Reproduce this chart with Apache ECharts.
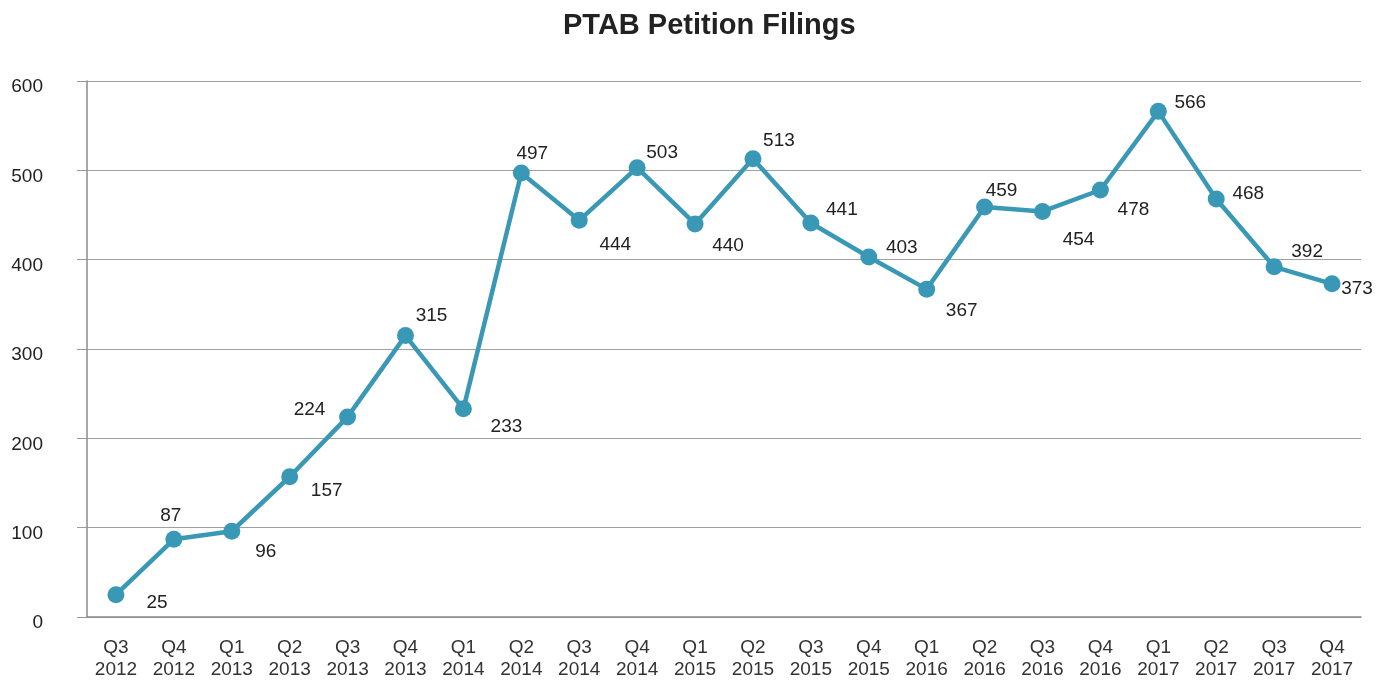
<!DOCTYPE html>
<html>
<head>
<meta charset="utf-8">
<script src="https://cdn.jsdelivr.net/npm/echarts@6/dist/echarts.min.js"></script>
<style>
  html, body { margin: 0; padding: 0; background: #fff; }
  #main { width: 1387px; height: 680px; }
</style>
</head>
<body>
<div id="main"></div>
<script>
// quarters on the x axis
var quarters = ['Q3\n2012', 'Q4\n2012', 'Q1\n2013', 'Q2\n2013', 'Q3\n2013', 'Q4\n2013',
    'Q1\n2014', 'Q2\n2014', 'Q3\n2014', 'Q4\n2014', 'Q1\n2015', 'Q2\n2015',
    'Q3\n2015', 'Q4\n2015', 'Q1\n2016', 'Q2\n2016', 'Q3\n2016', 'Q4\n2016',
    'Q1\n2017', 'Q2\n2017', 'Q3\n2017', 'Q4\n2017'];

// petition filings per quarter
var filings = [25, 87, 96, 157, 224, 315, 233, 497, 444, 503, 440, 513,
    441, 403, 367, 459, 454, 478, 566, 468, 392, 373];

// where each value label sits relative to its point (px)
var labelShift = [[41, 8], [-3, -24], [34, 21], [37, 14], [-38, -7], [26, -20],
    [43, 18], [11, -19], [36, 24], [25, -15], [33, 22], [26, -18],
    [31, -13], [33, -9], [35, 22], [17, -16], [36, 28], [33, 20],
    [32, -9], [32, -5], [33, -15], [25, 5]];

var font = '"Liberation Sans", Arial, Helvetica, sans-serif';

var seriesData = filings.map(function (v, i) {
    return {
        value: v,
        label: { offset: labelShift[i] }
    };
});

var myChart = echarts.init(document.getElementById('main'));

var option = {
    backgroundColor: '#fff',
    animation: false,
    title: {
        text: 'PTAB Petition Filings',
        left: 558,
        top: 6,
        textStyle: {
            fontFamily: font,
            fontSize: 29,
            fontWeight: 'bold',
            color: '#222'
        }
    },
    grid: {
        left: 87,
        right: 26,
        top: 81,
        bottom: 63,
        containLabel: false,
        outerBoundsMode: 'none'
    },
    xAxis: {
        type: 'category',
        data: quarters,
        axisLine: { lineStyle: { color: '#8a8a8a', width: 1.5 } },
        axisTick: { length: 8, lineStyle: { color: '#8a8a8a', width: 1.5 } },
        axisLabel: {
            fontFamily: font,
            fontSize: 19,
            color: '#333',
            margin: 20,
            lineHeight: 22
        }
    },
    yAxis: {
        type: 'value',
        min: 0,
        max: 600,
        interval: 100,
        axisLine: { show: true, lineStyle: { color: '#8a8a8a', width: 1.5 } },
        axisTick: { show: true, length: 10, lineStyle: { color: '#9a9a9a' } },
        splitLine: { lineStyle: { color: '#a0a0a0', width: 1.2 } },
        axisLabel: {
            fontFamily: font,
            fontSize: 19,
            color: '#222',
            margin: 44,
            verticalAlign: 'top',
            lineHeight: 12
        }
    },
    series: [{
        name: 'filings',
        type: 'line',
        data: seriesData,
        symbol: 'circle',
        symbolSize: 17,
        itemStyle: { color: '#3a98b7' },
        lineStyle: { color: '#3a98b7', width: 4.5 },
        label: {
            show: true,
            position: 'inside',
            align: 'center',
            verticalAlign: 'middle',
            fontFamily: font,
            fontSize: 19,
            color: '#222'
        }
    }]
};

myChart.setOption(option);
</script>
</body>
</html>
